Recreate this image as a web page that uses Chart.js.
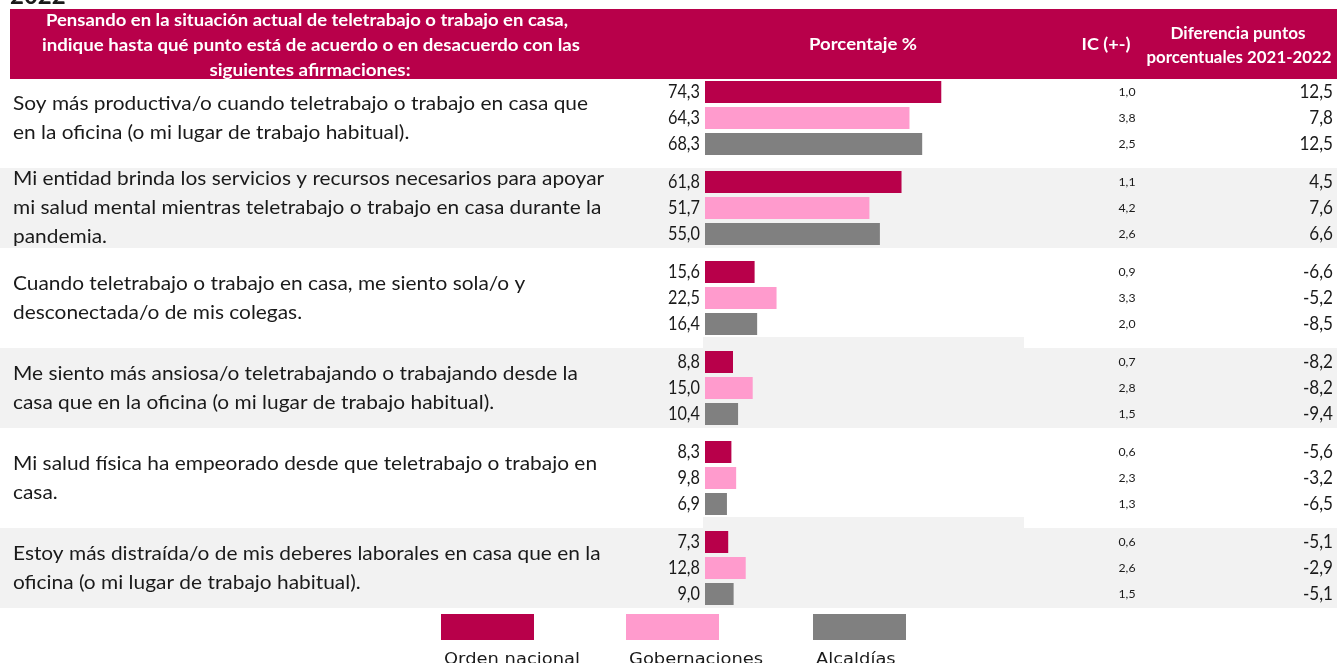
<!DOCTYPE html>
<html lang="es">
<head>
  <meta charset="UTF-8">
  <title>Teletrabajo 2022</title>
  <script src="https://cdn.jsdelivr.net/npm/chart.js"></script>
  <style>
    body { margin: 0; background: #FFFFFF; }
    canvas { display: block; }
  </style>
</head>
<body>
  <canvas id="teletrabajoChart" width="1337" height="663"></canvas>

  <script>
    // Afirmaciones (una línea por elemento)
    const categorias = [
      ["Soy más productiva/o cuando teletrabajo o trabajo en casa que", "en la oficina (o mi lugar de trabajo habitual)."],
      ["Mi entidad brinda los servicios y recursos necesarios para apoyar", "mi salud mental mientras teletrabajo o trabajo en casa durante la", "pandemia."],
      ["Cuando teletrabajo o trabajo en casa, me siento sola/o y", "desconectada/o de mis colegas."],
      ["Me siento más ansiosa/o teletrabajando o trabajando desde la", "casa que en la oficina (o mi lugar de trabajo habitual)."],
      ["Mi salud física ha empeorado desde que teletrabajo o trabajo en", "casa."],
      ["Estoy más distraída/o de mis deberes laborales en casa que en la", "oficina (o mi lugar de trabajo habitual)."]
    ];
    const series = ["Orden nacional", "Gobernaciones", "Alcaldías"];

    // Porcentaje %
    const ordenNacional = [74.3, 61.8, 15.6, 8.8, 8.3, 7.3];
    const gobernaciones = [64.3, 51.7, 22.5, 15.0, 9.8, 12.8];
    const alcaldias     = [68.3, 55.0, 16.4, 10.4, 6.9, 9.0];

    // IC (+-)
    const icOrden = [1.0, 1.1, 0.9, 0.7, 0.6, 0.6];
    const icGober = [3.8, 4.2, 3.3, 2.8, 2.3, 2.6];
    const icAlcal = [2.5, 2.6, 2.0, 1.5, 1.3, 1.5];

    // Diferencia puntos porcentuales 2021-2022
    const difOrden = [12.5, 4.5, -6.6, -8.2, -5.6, -5.1];
    const difGober = [7.8, 7.6, -5.2, -8.2, -3.2, -2.9];
    const difAlcal = [12.5, 6.6, -8.5, -9.4, -6.5, -5.1];

    const colores = ["#B8004A", "#FF9BCD", "#808080"];
    const icPorSerie = [icOrden, icGober, icAlcal];
    const difPorSerie = [difOrden, difGober, difAlcal];

    const fmt = v => v.toFixed(1).replace(".", ",");

    // texto con escala horizontal (la fuente original es estrecha)
    function texto(ctx, s, x, y, font, color, align, sx, base) {
      ctx.save();
      ctx.font = font;
      ctx.fillStyle = color;
      ctx.textAlign = align;
      ctx.textBaseline = base || "middle";
      ctx.translate(x, y);
      ctx.scale(sx, 1);
      ctx.fillText(s, 0, 0);
      ctx.restore();
    }
    function escala(ctx, s, font, ancho) {
      ctx.save();
      ctx.font = font;
      const w = ctx.measureText(s).width;
      ctx.restore();
      return ancho / w;
    }
    // texto ajustado a un ancho dado
    function ajustado(ctx, s, x, y, font, color, align, ancho, base) {
      texto(ctx, s, x, y, font, color, align, escala(ctx, s, font, ancho), base);
    }

    const fondoFilas = {
      id: "fondoFilas",
      beforeDatasetsDraw(chart) {
        const { ctx, chartArea, scales: { y } } = chart;
        ctx.save();
        ctx.fillStyle = "#F2F2F2";
        categorias.forEach((_, i) => {
          if (i % 2 === 0) return;
          const c = y.getPixelForValue(i);
          ctx.fillRect(0, c - 40, chart.width, 80);
          if (i > 1) ctx.fillRect(chartArea.left - 2, c - 51, chartArea.right - chartArea.left + 3, 11);
        });
        ctx.restore();
      }
    };

    const tabla = {
      id: "tabla",
      afterDraw(chart) {
        const { ctx, scales: { y } } = chart;
        const fFila = "19px Lato";
        const fValor = "19px Lato";
        const fIC = "12px Lato";
        const fHdr = "bold 17px Lato";
        const sxFila = escala(ctx, categorias[0][0], fFila, 575);
        const sxValor = escala(ctx, "61,8", fValor, 32);
        const sxIC = escala(ctx, "1,0", fIC, 17);

        // título cortado arriba
        texto(ctx, "2022", 10, -4, "bold 24px Lato", "#1A1A1A", "left", 1);

        // encabezado
        ctx.fillStyle = colores[0];
        ctx.fillRect(10, 9, chart.width - 10, 70);
        ctx.save();
        ctx.beginPath();
        ctx.rect(0, 0, chart.width, 79);
        ctx.clip();
        ajustado(ctx, "Pensando en la situación actual de teletrabajo o trabajo en casa,", 307, 21, fHdr, "#FFFFFF", "center", 522);
        ajustado(ctx, "indique hasta qué punto está de acuerdo o en desacuerdo con las", 311, 46, fHdr, "#FFFFFF", "center", 538);
        ajustado(ctx, "siguientes afirmaciones:", 310, 71, fHdr, "#FFFFFF", "center", 201);
        ctx.restore();
        ajustado(ctx, "Porcentaje %", 863, 45, fHdr, "#FFFFFF", "center", 108);
        ajustado(ctx, "IC (+-)", 1106, 45, fHdr, "#FFFFFF", "center", 49);
        ajustado(ctx, "Diferencia puntos", 1238, 34, fHdr, "#FFFFFF", "center", 135);
        ajustado(ctx, "porcentuales 2021-2022", 1239, 58, fHdr, "#FFFFFF", "center", 185);

        // afirmaciones
        categorias.forEach((lineas, i) => {
          const c = y.getPixelForValue(i);
          ctx.save();
          ctx.beginPath();
          ctx.rect(0, c - 45, 690, 83);
          ctx.clip();
          lineas.forEach((l, k) => {
            const yy = c + (k - (lineas.length - 1) / 2) * 29;
            texto(ctx, l, 13, yy, fFila, "#1A1A1A", "left", sxFila);
          });
          ctx.restore();
        });

        // valores, IC y diferencias
        chart.data.datasets.forEach((ds, d) => {
          chart.getDatasetMeta(d).data.forEach((bar, i) => {
            texto(ctx, fmt(ds.data[i]), bar.base - 5, bar.y, fValor, "#1A1A1A", "right", sxValor);
            texto(ctx, fmt(icPorSerie[d][i]), 1127, bar.y, fIC, "#1A1A1A", "center", sxIC);
            texto(ctx, fmt(difPorSerie[d][i]), 1333, bar.y, fValor, "#1A1A1A", "right", sxValor * 1.05);
          });
        });

        // leyenda
        const legX = [441, 626, 813];
        const fLeg = "16px 'DejaVu Sans'";
        const sxLeg = escala(ctx, "Orden nacional", fLeg, 136);
        chart.data.datasets.forEach((ds, d) => {
          ctx.fillStyle = ds.backgroundColor;
          ctx.fillRect(legX[d], 614, 93, 26);
          texto(ctx, ds.label, legX[d] + 3, 664, fLeg, "#1A1A1A", "left", sxLeg, "alphabetic");
        });
      }
    };

    function dibujar() {
      const ctx = document.getElementById("teletrabajoChart").getContext("2d");
      new Chart(ctx, {
        type: "bar",
        data: {
          labels: categorias,
          datasets: [ordenNacional, gobernaciones, alcaldias].map((vals, d) => ({
            label: series[d],
            data: vals,
            backgroundColor: colores[d],
            borderWidth: 0,
            categoryPercentage: 0.867,
            barPercentage: 0.846
          }))
        },
        options: {
          indexAxis: "y",
          responsive: false,
          animation: false,
          layout: { padding: { left: 705, right: 314, top: 73, bottom: 50 } },
          scales: {
            x: { display: false, min: 0, max: 100 },
            y: { display: false }
          },
          plugins: {
            legend: { display: false },
            tooltip: { enabled: false }
          }
        },
        plugins: [fondoFilas, tabla]
      });
    }

    Promise.all([
      document.fonts.load("19px Lato"),
      document.fonts.load("bold 17px Lato"),
      document.fonts.load("16px 'DejaVu Sans'")
    ]).then(dibujar, dibujar);
  </script>
</body>
</html>
